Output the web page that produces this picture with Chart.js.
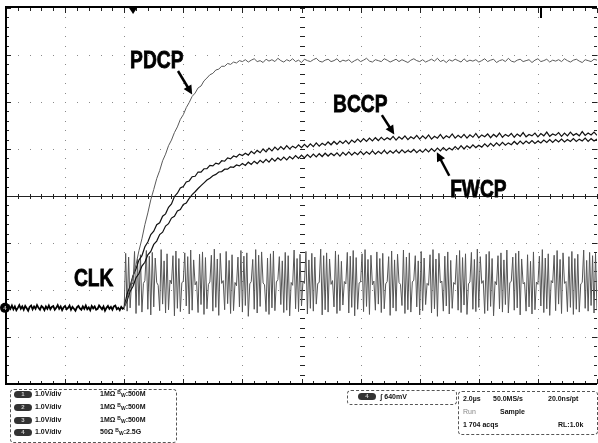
<!DOCTYPE html>
<html>
<head>
<meta charset="utf-8">
<script src="https://cdn.jsdelivr.net/npm/chart.js@4.4.0/dist/chart.umd.min.js"></script>
<style>
  body { margin: 0; background: #fff; }
  #wrap { position: relative; width: 598px; height: 443px; }
  #scope { position: absolute; left: 0; top: 0; }
  .box { position: absolute; border: 1px dashed #555; border-radius: 4px; }
  .t { position: absolute; font: bold 7px "Liberation Sans", Arial, sans-serif; color: #111; white-space: nowrap; line-height: 8px; }
  .t.dim { color: #888; font-weight: normal; }
  .badge { position: absolute; width: 18px; height: 7px; border-radius: 4px; background: #333; color: #ccc; font: bold 6px "Liberation Sans", sans-serif; text-align: center; line-height: 7px; }
  .bw { font-size: 5px; position: relative; }
</style>
</head>
<body>
<div id="wrap">
  <canvas id="scope" width="598" height="443"></canvas>

  <!-- channel settings -->
  <div class="box" style="left:10px;top:389px;width:165px;height:52px"></div>
  <div class="badge" style="left:14px;top:391px">1</div>
  <div class="t" style="left:35px;top:390px">1.0V/div</div>
  <div class="t" style="left:100px;top:390px">1MΩ <span class="bw" style="top:-2px">B</span><span class="bw" style="top:1px">W</span>:500M</div>
  <div class="badge" style="left:14px;top:404px">2</div>
  <div class="t" style="left:35px;top:403px">1.0V/div</div>
  <div class="t" style="left:100px;top:403px">1MΩ <span class="bw" style="top:-2px">B</span><span class="bw" style="top:1px">W</span>:500M</div>
  <div class="badge" style="left:14px;top:417px">3</div>
  <div class="t" style="left:35px;top:416px">1.0V/div</div>
  <div class="t" style="left:100px;top:416px">1MΩ <span class="bw" style="top:-2px">B</span><span class="bw" style="top:1px">W</span>:500M</div>
  <div class="badge" style="left:14px;top:429px">4</div>
  <div class="t" style="left:35px;top:428px">1.0V/div</div>
  <div class="t" style="left:100px;top:428px">50Ω <span class="bw" style="top:-2px">B</span><span class="bw" style="top:1px">W</span>:2.5G</div>

  <!-- trigger -->
  <div class="box" style="left:347px;top:390px;width:108px;height:13px"></div>
  <div class="badge" style="left:358px;top:393px">4</div>
  <div class="t" style="left:380px;top:393px">ʃ 640mV</div>

  <!-- acquisition -->
  <div class="box" style="left:458px;top:391px;width:138px;height:42px"></div>
  <div class="t" style="left:463px;top:395px">2.0µs</div>
  <div class="t" style="left:493px;top:395px">50.0MS/s</div>
  <div class="t" style="left:548px;top:395px">20.0ns/pt</div>
  <div class="t dim" style="left:463px;top:408px">Run</div>
  <div class="t" style="left:500px;top:408px">Sample</div>
  <div class="t" style="left:463px;top:421px">1 704 acqs</div>
  <div class="t" style="left:558px;top:421px">RL:1.0k</div>
</div>

<script>
// time base: 2 us/div over 10 divisions, 1 V/div over 8 divisions
const T_SPAN = 20;
const V_SPAN = 4;

// CLK (ch4) idle level before the clock starts, 0 .. 4 us every 0.05 us
const clkIdle = [
  -2.37,-2.42,-2.34,-2.40,-2.33,-2.41,-2.35,-2.43,-2.38,-2.32,
  -2.40,-2.35,-2.42,-2.34,-2.39,-2.44,-2.36,-2.33,-2.41,-2.35,
  -2.40,-2.32,-2.38,-2.42,-2.34,-2.37,-2.43,-2.35,-2.40,-2.33,
  -2.41,-2.36,-2.34,-2.42,-2.38,-2.32,-2.40,-2.35,-2.43,-2.37,
  -2.34,-2.41,-2.38,-2.33,-2.42,-2.36,-2.40,-2.44,-2.37,-2.34,
  -2.39,-2.42,-2.35,-2.40,-2.33,-2.41,-2.37,-2.43,-2.34,-2.39,
  -2.35,-2.42,-2.40,-2.33,-2.37,-2.41,-2.35,-2.44,-2.38,-2.34,
  -2.40,-2.36,-2.42,-2.35,-2.33,-2.41,-2.38,-2.43,-2.36,-2.40,
  -2.38
];

// CLK running, 4.05 .. 20 us every 0.05 us
const clkRun = [
  -1.22,-2.45,-1.30,-2.38,-1.83,-1.88,-1.18,-2.50,-1.35,-2.33,-1.25,-2.47,-1.86,-1.80,-1.16,-2.41,
  -1.28,-2.53,-1.20,-2.36,-1.32,-1.84,-1.90,-2.44,-1.14,-2.30,-1.38,-2.49,-1.23,-2.42,-1.79,-1.87,
  -1.27,-2.55,-1.17,-2.39,-1.33,-2.46,-1.85,-1.81,-1.21,-2.34,-1.29,-2.51,-1.15,-2.43,-1.36,-1.89,
  -1.82,-2.48,-1.24,-2.31,-1.19,-2.52,-1.31,-2.40,-1.88,-1.83,-1.26,-2.45,-1.13,-2.37,-1.34,-2.54,
  -1.22,-1.86,-1.80,-2.42,-1.18,-2.29,-1.37,-2.50,-1.25,-2.44,-1.84,-1.91,-1.30,-2.36,-1.16,-2.47,
  -1.28,-2.33,-1.21,-2.56,-1.87,-1.82,-1.35,-2.41,-1.14,-2.49,-1.26,-2.35,-1.19,-1.85,-1.89,-2.46,
  -1.32,-2.52,-1.23,-2.38,-1.17,-2.44,-1.83,-1.78,-1.29,-2.31,-1.38,-2.48,-1.20,-2.43,-1.27,-2.55,
  -1.84,-1.90,-1.15,-2.40,-1.33,-2.46,-1.24,-2.34,-1.81,-1.86,-1.18,-2.51,-1.36,-2.39,-1.22,-2.45,
  -1.30,-2.30,-1.86,-1.84,-1.13,-2.53,-1.27,-2.42,-1.21,-2.47,-1.34,-1.88,-1.80,-2.36,-1.17,-2.50,
  -1.25,-2.44,-1.39,-2.32,-1.82,-1.87,-1.20,-2.49,-1.28,-2.37,-1.16,-2.55,-1.31,-2.41,-1.85,-1.83,
  -1.23,-2.46,-1.14,-2.35,-1.35,-2.52,-1.26,-1.89,-1.81,-2.43,-1.19,-2.30,-1.33,-2.48,-1.22,-2.40,
  -1.87,-1.82,-1.29,-2.54,-1.17,-2.38,-1.36,-2.45,-1.24,-1.84,-1.88,-2.33,-1.15,-2.50,-1.30,-2.42,
  -1.21,-2.47,-1.83,-1.79,-1.27,-2.36,-1.38,-2.53,-1.18,-2.44,-1.32,-2.31,-1.86,-1.90,-1.25,-2.49,
  -1.14,-2.40,-1.34,-2.56,-1.22,-1.85,-1.81,-2.45,-1.28,-2.34,-1.19,-2.51,-1.37,-2.39,-1.84,-1.88,
  -1.26,-2.43,-1.16,-2.48,-1.31,-2.32,-1.23,-2.52,-1.87,-1.83,-1.20,-2.41,-1.35,-2.46,-1.13,-2.37,
  -1.29,-1.86,-1.80,-2.50,-1.24,-2.44,-1.18,-2.35,-1.33,-2.55,-1.82,-1.89,-1.27,-2.40,-1.21,-2.47,
  -1.36,-2.31,-1.15,-2.49,-1.85,-1.81,-1.30,-2.43,-1.22,-2.38,-1.17,-2.53,-1.34,-1.87,-1.84,-2.45,
  -1.25,-2.36,-1.39,-2.51,-1.19,-2.42,-1.83,-1.88,-1.28,-2.34,-1.14,-2.48,-1.32,-2.40,-1.23,-2.54,
  -1.80,-1.85,-1.26,-2.44,-1.16,-2.30,-1.35,-2.50,-1.21,-1.86,-1.82,-2.46,-1.29,-2.37,-1.18,-2.52,
  -1.33,-2.41,-1.24,-2.47,-1.87,-1.84,-1.15,-2.39,-1.37,-2.45,-1.20,-2.33,-1.27,-2.49,-1.22,-2.43
];

// precharge nodes, 4.0 .. 20 us every 0.1 us (divisions)
const pdcp = [
  -2.38,-2.18,-1.96,-1.71,-1.46,-1.16,-0.91,-0.61,-0.36,-0.08,
   0.14, 0.37, 0.54, 0.75, 0.89, 1.07, 1.19, 1.35, 1.47, 1.63,
   1.73, 1.88, 1.99, 2.12, 2.19, 2.30, 2.34, 2.45, 2.51, 2.58,
   2.61, 2.68, 2.70, 2.76, 2.76, 2.82, 2.80, 2.85, 2.83, 2.88,
   2.86,
   2.90, 2.85, 2.89, 2.92, 2.86, 2.88, 2.84, 2.91, 2.87, 2.90,
   2.86, 2.93, 2.88, 2.85, 2.90, 2.87, 2.92, 2.86, 2.89, 2.84,
   2.91, 2.88, 2.86, 2.90, 2.93, 2.87, 2.85, 2.89, 2.91, 2.86,
   2.88, 2.92, 2.85, 2.89, 2.87, 2.90, 2.84, 2.88, 2.91, 2.86,
   2.89, 2.93, 2.87, 2.85, 2.90, 2.88, 2.86, 2.92, 2.89, 2.85,
   2.88, 2.91, 2.86, 2.90, 2.87, 2.84, 2.89, 2.92, 2.88, 2.86,
   2.90, 2.85, 2.88, 2.91, 2.87, 2.93, 2.86, 2.89, 2.84, 2.90,
   2.87, 2.91, 2.88, 2.85, 2.92, 2.86, 2.89, 2.87, 2.90, 2.85,
   2.88, 2.92, 2.86, 2.89, 2.91, 2.84, 2.88, 2.90, 2.86, 2.93,
   2.87, 2.85, 2.89, 2.91, 2.86, 2.88, 2.90, 2.84, 2.89, 2.92,
   2.86, 2.88, 2.91, 2.85, 2.89, 2.87, 2.90, 2.86, 2.92, 2.88,
   2.85, 2.89, 2.91, 2.87, 2.84, 2.90, 2.88, 2.86, 2.91, 2.89
];

const bccp = [
  -2.36,-2.08,-1.92,-1.69,-1.55,-1.36,-1.27,-1.08,-0.98,-0.82,
  -0.75,-0.61,-0.57,-0.43,-0.38,-0.24,-0.17,-0.01, 0.06, 0.17,
   0.20, 0.30, 0.32, 0.41, 0.42, 0.51, 0.51, 0.58, 0.58, 0.65,
   0.64, 0.70, 0.68, 0.75, 0.74, 0.81, 0.79, 0.85, 0.83, 0.89,
   0.86,
   0.91, 0.87, 0.95, 0.90, 0.97, 0.92, 1.00, 0.94, 1.02, 0.96,
   1.04, 0.98, 1.05, 0.99, 1.07, 1.00, 1.06, 1.02, 1.09, 1.03,
   1.10, 1.04, 1.11, 1.05, 1.13, 1.06, 1.12, 1.08, 1.15, 1.09,
   1.16, 1.10, 1.17, 1.12, 1.18, 1.11, 1.19, 1.14, 1.21, 1.15,
   1.22, 1.16, 1.23, 1.17, 1.24, 1.18, 1.25, 1.19, 1.24, 1.20,
   1.27, 1.19, 1.26, 1.21, 1.28, 1.20, 1.26, 1.22, 1.29, 1.21,
   1.28, 1.22, 1.30, 1.21, 1.27, 1.23, 1.31, 1.22, 1.28, 1.24,
   1.32, 1.23, 1.29, 1.24, 1.31, 1.23, 1.30, 1.25, 1.33, 1.24,
   1.30, 1.26, 1.32, 1.24, 1.31, 1.26, 1.34, 1.25, 1.31, 1.27,
   1.33, 1.25, 1.32, 1.27, 1.35, 1.26, 1.31, 1.28, 1.34, 1.26,
   1.33, 1.28, 1.36, 1.27, 1.32, 1.29, 1.35, 1.27, 1.34, 1.28,
   1.36, 1.29, 1.33, 1.28, 1.37, 1.29, 1.34, 1.30, 1.36, 1.29
];

const fwcp = [
  -2.36,-2.22,-2.03,-1.92,-1.74,-1.65,-1.49,-1.41,-1.25,-1.18,
  -1.03,-0.96,-0.82,-0.77,-0.64,-0.59,-0.47,-0.43,-0.32,-0.29,
  -0.18,-0.15,-0.05, 0.03, 0.09, 0.16, 0.22, 0.28, 0.34, 0.38,
   0.43, 0.46, 0.51, 0.52, 0.57, 0.57, 0.62, 0.61, 0.66, 0.64,
   0.69,
   0.65, 0.72, 0.67, 0.74, 0.69, 0.76, 0.71, 0.78, 0.72, 0.80,
   0.74, 0.81, 0.76, 0.83, 0.77, 0.84, 0.79, 0.86, 0.80, 0.87,
   0.81, 0.88, 0.82, 0.89, 0.83, 0.90, 0.84, 0.91, 0.85, 0.91,
   0.86, 0.92, 0.85, 0.93, 0.87, 0.94, 0.87, 0.93, 0.88, 0.95,
   0.88, 0.94, 0.89, 0.96, 0.89, 0.95, 0.90, 0.97, 0.90, 0.96,
   0.91, 0.97, 0.91, 0.98, 0.92, 0.97, 0.93, 0.99, 0.92, 0.98,
   0.93, 1.00, 0.94, 1.01, 0.95, 1.02, 0.96, 1.03, 0.97, 1.02,
   0.98, 1.05, 0.99, 1.07, 1.00, 1.07, 1.02, 1.09, 1.03, 1.08,
   1.04, 1.11, 1.05, 1.12, 1.06, 1.13, 1.07, 1.14, 1.08, 1.13,
   1.09, 1.16, 1.10, 1.17, 1.11, 1.17, 1.12, 1.18, 1.12, 1.17,
   1.13, 1.19, 1.14, 1.20, 1.14, 1.20, 1.15, 1.21, 1.15, 1.20,
   1.16, 1.22, 1.16, 1.21, 1.17, 1.23, 1.16, 1.22, 1.17, 1.21
];

// trace labels: text, anchor (us, div), arrow from/to (us, div)
const labels = [
  { text: 'PDCP', at: [4.20, 2.72], from: [5.82, 2.66], to: [6.30, 2.16] },
  { text: 'BCCP', at: [11.07, 1.79], from: [12.72, 1.72], to: [13.14, 1.31] },
  { text: 'FWCP', at: [15.03, -0.02], from: [15.00, 0.43], to: [14.58, 0.93] },
  { text: 'CLK', at: [2.30, -1.91] }
];

const TRIG_T = 4.3;   // trigger position marker on the top edge
const CH4_ZERO = -2.38;

const series = (vals, t0, dt) => vals.map((v, i) => ({ x: +(t0 + i * dt).toFixed(3), y: v }));
const clkPoints = series(clkIdle, 0, 0.05).concat(series(clkRun, 4.05, 0.05));

const graticule = {
  id: 'graticule',
  beforeDatasetsDraw(chart) {
    const { ctx, chartArea: a, scales: { x, y } } = chart;
    const dx = (a.right - a.left) / 10, dy = (a.bottom - a.top) / 8;
    ctx.save();
    // dotted division lines
    ctx.fillStyle = '#8a8a8a';
    for (let i = 1; i < 10; i++) {
      const px = Math.round(a.left + i * dx);
      for (let j = 0; j <= 40; j++) ctx.fillRect(px, Math.round(a.top + j * dy / 5), 1, 1);
    }
    for (let j = 1; j < 8; j++) {
      const py = Math.round(a.top + j * dy);
      for (let i = 0; i <= 50; i++) ctx.fillRect(Math.round(a.left + i * dx / 5), py, 1, 1);
    }
    // center cross
    const cx = Math.round(x.getPixelForValue(T_SPAN / 2)), cy = Math.round(y.getPixelForValue(0));
    ctx.fillStyle = '#222';
    ctx.fillRect(a.left, cy, a.right - a.left, 1);
    for (let i = 0; i <= 50; i++) ctx.fillRect(Math.round(a.left + i * dx / 5), cy - 2, 1, 5);
    for (let j = 0; j <= 40; j++) ctx.fillRect(cx - 2, Math.round(a.top + j * dy / 5), 5, 1);
    // edge ticks
    for (let i = 0; i <= 50; i++) {
      const px = Math.round(a.left + i * dx / 5), len = i % 5 ? 3 : 5;
      ctx.fillRect(px, a.top, 1, len);
      ctx.fillRect(px, a.bottom - len, 1, len);
    }
    for (let j = 0; j <= 40; j++) {
      const py = Math.round(a.top + j * dy / 5), len = j % 5 ? 3 : 5;
      ctx.fillRect(a.left, py, len, 1);
      ctx.fillRect(a.right - len, py, len, 1);
    }
    // frame: left, top, bottom
    ctx.fillStyle = '#000';
    ctx.fillRect(a.left - 1, a.top - 2, 2, a.bottom - a.top + 3);
    ctx.fillRect(a.left - 1, a.top - 2, a.right - a.left + 1, 2);
    ctx.fillRect(a.left - 1, a.bottom - 1, a.right - a.left + 1, 2);
    // trigger position and expansion markers
    const tx = x.getPixelForValue(TRIG_T);
    ctx.beginPath();
    ctx.moveTo(tx - 4, a.top); ctx.lineTo(tx + 4, a.top); ctx.lineTo(tx, a.top + 6); ctx.closePath();
    ctx.fill();
    ctx.fillRect(Math.round(a.left + 9 * dx) + 2, a.top, 2, 10);
    ctx.restore();
  },
  afterDatasetsDraw(chart) {
    const { ctx, chartArea: a, scales: { x, y } } = chart;
    ctx.save();
    // ch4 ground marker
    const gy = y.getPixelForValue(CH4_ZERO);
    ctx.fillStyle = '#000';
    ctx.beginPath(); ctx.arc(a.left - 1, gy, 5, 0, Math.PI * 2); ctx.fill();
    ctx.fillStyle = '#bbb';
    ctx.font = 'bold 6px "Liberation Sans", sans-serif';
    ctx.textAlign = 'center'; ctx.textBaseline = 'middle';
    ctx.fillText('4', a.left - 1, gy + 0.5);

    // trace names with arrows
    ctx.fillStyle = '#000'; ctx.strokeStyle = '#000';
    ctx.textAlign = 'left'; ctx.textBaseline = 'alphabetic';
    ctx.font = 'bold 24px "Liberation Sans", Arial, sans-serif';
    ctx.lineWidth = 0.8;
    labels.forEach(l => {
      const px = x.getPixelForValue(l.at[0]), py = y.getPixelForValue(l.at[1]);
      ctx.save();
      ctx.translate(px, py); ctx.scale(0.8, 1);
      ctx.fillText(l.text, 0, 0);
      ctx.strokeText(l.text, 0, 0);
      ctx.restore();
      if (!l.from) return;
      const x0 = x.getPixelForValue(l.from[0]), y0 = y.getPixelForValue(l.from[1]);
      const x1 = x.getPixelForValue(l.to[0]), y1 = y.getPixelForValue(l.to[1]);
      const ang = Math.atan2(y1 - y0, x1 - x0), L = 9, W = 4.5;
      ctx.save();
      ctx.lineWidth = 2.5;
      ctx.beginPath();
      ctx.moveTo(x0, y0);
      ctx.lineTo(x1 - (L - 2) * Math.cos(ang), y1 - (L - 2) * Math.sin(ang));
      ctx.stroke();
      ctx.beginPath();
      ctx.moveTo(x1, y1);
      ctx.lineTo(x1 - L * Math.cos(ang) + W * Math.sin(ang), y1 - L * Math.sin(ang) - W * Math.cos(ang));
      ctx.lineTo(x1 - L * Math.cos(ang) - W * Math.sin(ang), y1 - L * Math.sin(ang) + W * Math.cos(ang));
      ctx.closePath();
      ctx.fill();
      ctx.restore();
    });
    ctx.restore();
  }
};

new Chart(document.getElementById('scope'), {
  type: 'scatter',
  data: {
    datasets: [
      { label: 'PDCP', data: series(pdcp, 4.0, 0.1), borderColor: '#5a5a5a', borderWidth: 1, order: 1 },
      { label: 'BCCP', data: series(bccp, 4.0, 0.1), borderColor: '#111', borderWidth: 1.2, order: 2 },
      { label: 'FWCP', data: series(fwcp, 4.0, 0.1), borderColor: '#111', borderWidth: 1.2, order: 3 },
      {
        label: 'CLK', data: clkPoints, borderColor: '#555', borderWidth: 1, order: 4,
        segment: {
          borderColor: c => c.p0.parsed.x < 4.0 ? '#000' : '#555',
          borderWidth: c => c.p0.parsed.x < 4.0 ? 1.8 : 1
        }
      }
    ]
  },
  options: {
    responsive: false,
    animation: false,
    events: [],
    layout: { padding: { left: 6, top: 8, right: 1, bottom: 59 } },
    elements: { point: { radius: 0 }, line: { tension: 0 } },
    datasets: { scatter: { showLine: true } },
    plugins: { legend: { display: false }, tooltip: { enabled: false } },
    scales: {
      x: { type: 'linear', min: 0, max: T_SPAN, display: false },
      y: { type: 'linear', min: -V_SPAN, max: V_SPAN, display: false }
    }
  },
  plugins: [graticule]
});
</script>
</body>
</html>
